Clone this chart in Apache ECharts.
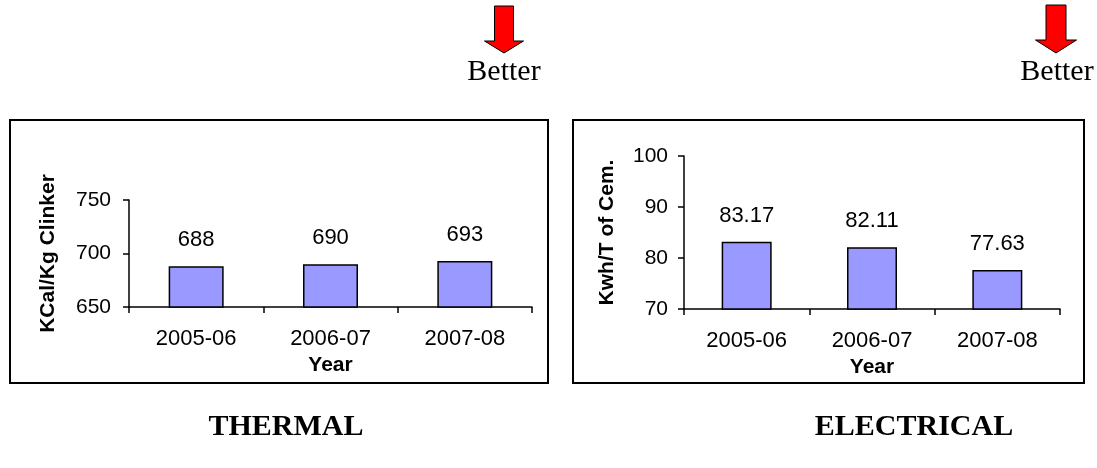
<!DOCTYPE html>
<html>
<head>
<meta charset="utf-8">
<script src="https://cdn.jsdelivr.net/npm/echarts@6/dist/echarts.min.js"></script>
<style>
html,body{margin:0;padding:0;background:#fff;}
#chart{width:1097px;height:468px;}
</style>
</head>
<body>
<div id="chart"></div>
<script>
var categories = ['2005-06', '2006-07', '2007-08'];
var thermalValues = [688, 690, 693];
var electricalValues = [83.17, 82.11, 77.63];
var thermalTicks = { min: 650, max: 750, interval: 50 };
var electricalTicks = { min: 70, max: 100, interval: 10 };
var thermalAxisName = 'KCal/Kg Clinker';
var electricalAxisName = 'Kwh/T of Cem.';
var xAxisName = 'Year';
var panelTitles = ['THERMAL', 'ELECTRICAL'];
var betterText = 'Better';

var sans = 'Liberation Sans, Arial, sans-serif';
var serif = 'Liberation Serif, Times New Roman, serif';

function xAx(gridIndex) {
  return {
    type: 'category', gridIndex: gridIndex, data: categories,
    boundaryGap: true,
    name: xAxisName, nameLocation: 'middle', nameGap: 48,
    nameTextStyle: { fontFamily: sans, fontSize: 21, fontWeight: 'bold', color: '#000' },
    axisLine: { lineStyle: { color: '#000', width: 1.5 } },
    axisTick: { show: true, length: 6, lineStyle: { color: '#000', width: 1.5 } },
    axisLabel: { fontFamily: sans, fontSize: 22, color: '#000', margin: 21 },
    splitLine: { show: false }
  };
}
function yAx(gridIndex, t, name, gap, margin) {
  return {
    type: 'value', gridIndex: gridIndex, min: t.min, max: t.max, interval: t.interval,
    name: name, nameLocation: 'middle', nameRotate: 90, nameGap: gap,
    nameTextStyle: { fontFamily: sans, fontSize: 21, fontWeight: 'bold', color: '#000' },
    axisLine: { show: true, lineStyle: { color: '#000', width: 1.5 } },
    axisTick: { show: true, length: 6, lineStyle: { color: '#000', width: 1.5 } },
    axisLabel: { fontFamily: sans, fontSize: 21, color: '#000', margin: margin },
    splitLine: { show: false }
  };
}
function barSeries(idx, data, w) {
  return {
    type: 'bar', xAxisIndex: idx, yAxisIndex: idx, data: data, barWidth: w,
    itemStyle: { color: '#9999FF', borderColor: '#000', borderWidth: 1.5 },
    label: { show: true, position: 'top', distance: 15, fontFamily: sans, fontSize: 22, color: '#000' },
    animation: false
  };
}
function arrow(cx, top, headY, tipY, shaftHalf, headHalf) {
  return {
    type: 'polygon',
    shape: { points: [[cx - shaftHalf, top], [cx + shaftHalf, top], [cx + shaftHalf, headY], [cx + headHalf, headY], [cx, tipY], [cx - headHalf, headY], [cx - shaftHalf, headY]] },
    style: { fill: '#FF0000', stroke: '#000', lineWidth: 1 }
  };
}

var chart = echarts.init(document.getElementById('chart'), null, { renderer: 'canvas' });
chart.setOption({
  animation: false,
  backgroundColor: '#fff',
  grid: [
    { left: 129, top: 200, width: 403, height: 107 },
    { left: 684, top: 156, width: 376, height: 153 }
  ],
  xAxis: [xAx(0), xAx(1)],
  yAxis: [yAx(0, thermalTicks, thermalAxisName, 70, 18), yAx(1, electricalTicks, electricalAxisName, 66, 16)],
  series: [barSeries(0, thermalValues, 55), barSeries(1, electricalValues, 50)],
  graphic: [
    { type: 'rect', shape: { x: 10, y: 120, width: 538, height: 263 }, style: { fill: 'none', stroke: '#000', lineWidth: 2 } },
    { type: 'rect', shape: { x: 573, y: 120, width: 511, height: 263 }, style: { fill: 'none', stroke: '#000', lineWidth: 2 } },
    arrow(504, 6, 41, 53, 9.5, 19.5),
    arrow(1056, 5, 40, 53, 10, 20.5),
    { type: 'text', style: { x: 504, y: 72, text: betterText, textAlign: 'center', textVerticalAlign: 'middle', font: '30px ' + serif, fill: '#000' } },
    { type: 'text', style: { x: 1057, y: 72, text: betterText, textAlign: 'center', textVerticalAlign: 'middle', font: '30px ' + serif, fill: '#000' } },
    { type: 'text', style: { x: 286, y: 427, text: panelTitles[0], textAlign: 'center', textVerticalAlign: 'middle', font: 'bold 30px ' + serif, fill: '#000' } },
    { type: 'text', style: { x: 914, y: 427, text: panelTitles[1], textAlign: 'center', textVerticalAlign: 'middle', font: 'bold 30px ' + serif, fill: '#000' } }
  ]
});
</script>
</body>
</html>
